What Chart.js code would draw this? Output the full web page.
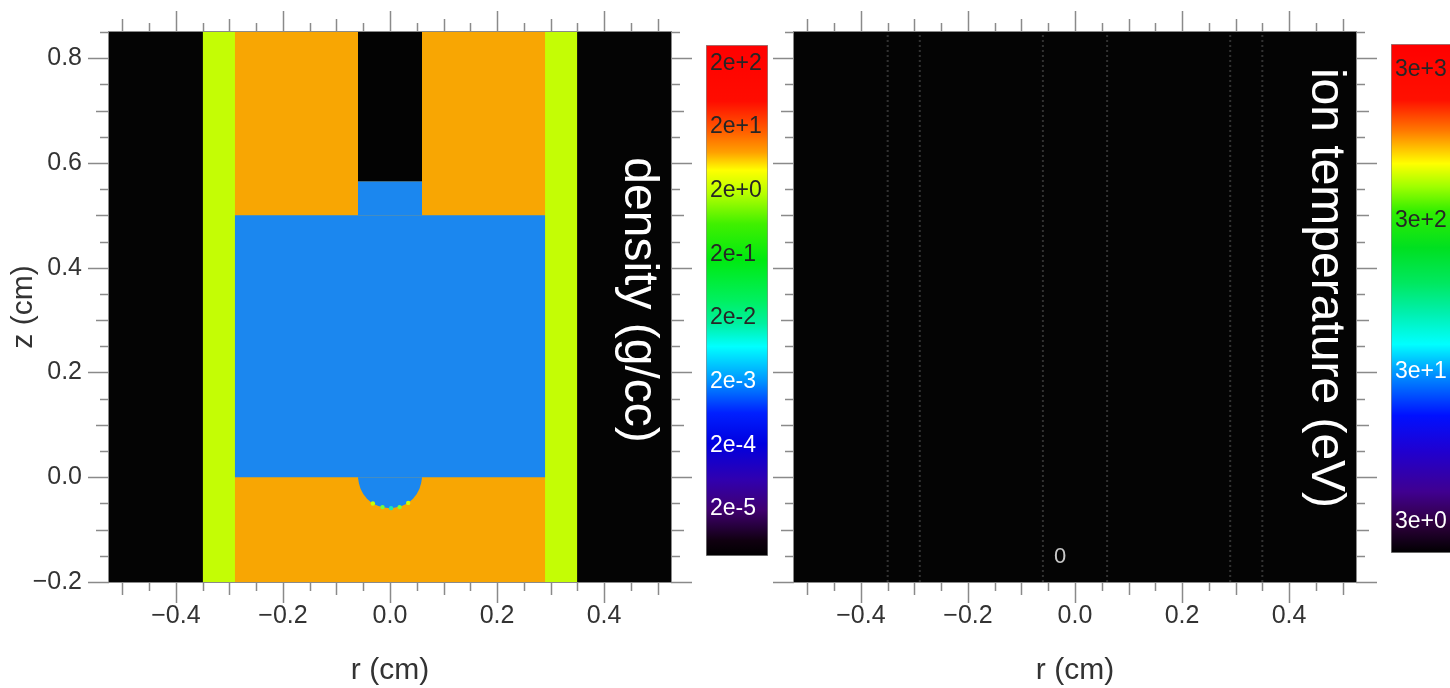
<!DOCTYPE html>
<html>
<head>
<meta charset="utf-8">
<script src="https://cdn.jsdelivr.net/npm/chart.js@4.4.1/dist/chart.umd.min.js"></script>
<style>
html, body { margin: 0; padding: 0; background: #ffffff; width: 1450px; height: 688px; overflow: hidden; }
canvas { position: absolute; }
</style>
</head>
<body>
<canvas id="densityPanel" width="700" height="688" style="left:0px;top:0px"></canvas>
<canvas id="densityBar" width="62" height="511" style="left:706px;top:45px"></canvas>
<canvas id="tempPanel" width="618" height="688" style="left:772px;top:0px"></canvas>
<canvas id="tempBar" width="62" height="509" style="left:1391px;top:44px"></canvas>
<script>
// ---------------- data ----------------
const rRange = [-0.525, 0.525];            // r (cm) axis extent
const zRange = [-0.2, 0.85];               // z (cm) axis extent
const rTickValues = [-0.4, -0.2, 0.0, 0.2, 0.4];
const zTickValues = [-0.2, 0.0, 0.2, 0.4, 0.6, 0.8];
const minorTickStep = 0.05;

// density map: material regions (painted in this order)
const regionNames = ['liner', 'shell', 'fuel', 'neck', 'channel'];
const regionRMin = [-0.35, -0.29, -0.29, -0.06, -0.06];
const regionRMax = [0.35, 0.29, 0.29, 0.06, 0.06];
const regionZMin = [-0.2, -0.2, 0.0, 0.5, 0.565];
const regionZMax = [0.85, 0.85, 0.5, 0.565, 0.85];
const regionColors = ['#c4fd05', '#f8a603', '#1b87ef', '#1b87ef', '#030303'];

// rounded fuel cap below z = 0
const capR = [-0.06, -0.058, -0.055, -0.05, -0.043, -0.034, -0.022, -0.01, 0.0, 0.01, 0.022, 0.034, 0.043, 0.05, 0.055, 0.058, 0.06];
const capZ = [0.0, -0.012, -0.022, -0.032, -0.041, -0.049, -0.055, -0.058, -0.059, -0.058, -0.055, -0.049, -0.041, -0.032, -0.022, -0.012, 0.0];
const capColor = '#1b87ef';

// mixed cells at the bottom of the cap
const speckR = [-0.032, -0.014, 0.002, 0.018, 0.034];
const speckZ = [-0.05, -0.057, -0.059, -0.057, -0.049];
const speckColors = ['#c8ff00', '#70ff40', '#20e8b0', '#80ff30', '#d0ff00'];

// ion temperature map: faint material boundaries
const boundaryR = [-0.35, -0.29, -0.06, 0.06, 0.29, 0.35];
const tempNote = '0';
const tempNoteR = -0.028;
const tempNoteZ = -0.152;

// colour bars
const densityTicks = [2e2, 2e1, 2e0, 2e-1, 2e-2, 2e-3, 2e-4, 2e-5];
const densityTickLabels = ['2e+2', '2e+1', '2e+0', '2e-1', '2e-2', '2e-3', '2e-4', '2e-5'];
const densityRange = [3.66e-6, 390];
const tempTicks = [3e3, 3e2, 3e1, 3e0];
const tempTickLabels = ['3e+3', '3e+2', '3e+1', '3e+0'];
const tempRange = [1.87, 4470];

const densityStops = [[0, '#ff0000'], [0.11, '#ff0c00'], [0.17, '#ff6000'], [0.21, '#ffa000'], [0.245, '#ffff00'], [0.29, '#b8ff00'], [0.35, '#40f000'], [0.42, '#00ea10'], [0.5, '#00f060'], [0.545, '#00f0a0'], [0.59, '#00ffff'], [0.655, '#0098ff'], [0.72, '#0020ff'], [0.78, '#0000e0'], [0.85, '#3000b0'], [0.91, '#400070'], [0.97, '#100010'], [1, '#000000']];
const tempStops = [[0, '#ff0000'], [0.11, '#ff1000'], [0.17, '#ff7800'], [0.235, '#ffff00'], [0.28, '#a0ff00'], [0.33, '#30ee00'], [0.4, '#00e020'], [0.47, '#00e860'], [0.53, '#00f0b0'], [0.59, '#00ffff'], [0.645, '#0098ff'], [0.73, '#0010ff'], [0.8, '#2000d0'], [0.88, '#400090'], [0.94, '#300040'], [1, '#000000']];

// ---------------- helpers ----------------
const FONT = "'Liberation Sans', Arial, Helvetica, sans-serif";
Chart.defaults.font.family = FONT;
const axisTextColor = '#333333';

function fmtAxis(v) {
  return (v < -1e-9 ? '\u2212' : '') + Math.abs(v).toFixed(1);
}

const blackAreaPlugin = {
  id: 'blackArea',
  beforeDatasetsDraw(chart) {
    const a = chart.chartArea, ctx = chart.ctx;
    ctx.save();
    ctx.fillStyle = '#040404';
    ctx.fillRect(a.left, a.top, a.right - a.left, a.bottom - a.top);
    ctx.restore();
  }
};

const frameTicksPlugin = {
  id: 'frameTicks',
  afterDraw(chart) {
    const ctx = chart.ctx, a = chart.chartArea, xs = chart.scales.x, ys = chart.scales.y;
    const lenOf = k => (k % 4 === 0 ? 21 : (k % 2 === 0 ? 13 : 9));
    ctx.save();
    ctx.strokeStyle = '#8a8a8a';
    ctx.lineWidth = 1.5;
    ctx.beginPath();
    const kx0 = Math.ceil(xs.min / minorTickStep - 1e-6), kx1 = Math.floor(xs.max / minorTickStep + 1e-6);
    for (let k = kx0; k <= kx1; k++) {
      const px = Math.round(xs.getPixelForValue(k * minorTickStep)) + 0.5;
      const L = lenOf(Math.abs(k));
      ctx.moveTo(px, a.bottom); ctx.lineTo(px, a.bottom + L);
      ctx.moveTo(px, a.top); ctx.lineTo(px, a.top - L);
    }
    const ky0 = Math.ceil(ys.min / minorTickStep - 1e-6), ky1 = Math.floor(ys.max / minorTickStep + 1e-6);
    for (let k = ky0; k <= ky1; k++) {
      const py = Math.round(ys.getPixelForValue(k * minorTickStep)) + 0.5;
      const L = lenOf(Math.abs(k));
      ctx.moveTo(a.left, py); ctx.lineTo(a.left - L, py);
      ctx.moveTo(a.right, py); ctx.lineTo(a.right + L, py);
    }
    ctx.stroke();
    ctx.lineWidth = 1;
    ctx.strokeRect(a.left - 0.5, a.top - 0.5, a.right - a.left + 1, a.bottom - a.top + 1);
    ctx.restore();
  }
};

const panelTextPlugin = {
  id: 'panelText',
  afterDraw(chart, args, opts) {
    const ctx = chart.ctx, a = chart.chartArea;
    ctx.save();
    if (opts.title) {
      ctx.translate(a.right - opts.titleInset, a.top + opts.titleCenter);
      ctx.rotate(Math.PI / 2);
      ctx.fillStyle = '#ffffff';
      ctx.font = '48px ' + FONT;
      ctx.textAlign = 'center';
      ctx.textBaseline = 'middle';
      ctx.fillText(opts.title, 0, 0);
      ctx.setTransform(1, 0, 0, 1, 0, 0);
    }
    if (opts.note) {
      ctx.fillStyle = '#c8c8c8';
      ctx.font = '22px ' + FONT;
      ctx.textAlign = 'center';
      ctx.textBaseline = 'middle';
      ctx.fillText(opts.note, chart.scales.x.getPixelForValue(opts.noteR), chart.scales.y.getPixelForValue(opts.noteZ));
    }
    ctx.restore();
  }
};

function xAxisOptions() {
  return {
    type: 'linear', position: 'bottom', min: rRange[0], max: rRange[1],
    grid: { display: false, drawTicks: false }, border: { display: false },
    ticks: { autoSkip: false, maxRotation: 0, padding: 19, color: axisTextColor, font: { size: 25 }, callback: v => fmtAxis(v) },
    afterBuildTicks: s => { s.ticks = rTickValues.map(v => ({ value: v })); },
    title: { display: true, text: 'r (cm)', color: axisTextColor, font: { size: 30, lineHeight: 1 }, padding: { top: 0, bottom: 2 } },
    afterFit: s => { s.height = 106; s.paddingLeft = 0; s.paddingRight = 0; }
  };
}

function rectDataset(i, order) {
  return {
    label: regionNames[i],
    data: [{ x: regionRMin[i], y: regionZMax[i] }, { x: regionRMax[i], y: regionZMax[i] }],
    fill: { value: regionZMin[i] },
    backgroundColor: regionColors[i],
    borderColor: 'transparent', borderWidth: 0,
    pointRadius: 0, pointHoverRadius: 0, tension: 0, order: order
  };
}

// ---------------- density panel ----------------
const densityDatasets = [];
const nLayers = regionNames.length + 2;
regionNames.forEach((n, i) => densityDatasets.push(rectDataset(i, nLayers - i)));
densityDatasets.push({
  label: 'cap',
  data: capR.map((r, i) => ({ x: r, y: capZ[i] })),
  fill: { value: 0 },
  backgroundColor: capColor, borderColor: 'transparent', borderWidth: 0,
  pointRadius: 0, pointHoverRadius: 0, tension: 0, order: 2
});
densityDatasets.push({
  label: 'mixed cells',
  data: speckR.map((r, i) => ({ x: r, y: speckZ[i] })),
  showLine: false, fill: false,
  pointRadius: 2.2, pointBorderWidth: 0,
  pointBackgroundColor: speckColors, pointBorderColor: speckColors, order: 1
});

new Chart(document.getElementById('densityPanel'), {
  type: 'line',
  data: { datasets: densityDatasets },
  options: {
    responsive: false, animation: false, events: [], devicePixelRatio: 1,
    layout: { padding: { top: 32, right: 29, left: 0, bottom: 0 } },
    plugins: {
      legend: { display: false }, tooltip: { enabled: false },
      panelText: { title: 'density (g/cc)', titleInset: 33, titleCenter: 268 }
    },
    scales: {
      x: xAxisOptions(),
      y: {
        type: 'linear', position: 'left', min: zRange[0], max: zRange[1],
        grid: { display: false, drawTicks: false }, border: { display: false },
        ticks: { autoSkip: false, padding: 27, color: axisTextColor, font: { size: 25 }, callback: v => fmtAxis(v) },
        afterBuildTicks: s => { s.ticks = zTickValues.map(v => ({ value: v })); },
        title: { display: true, text: 'z (cm)', color: axisTextColor, font: { size: 30, lineHeight: 1 }, padding: { top: 9, bottom: 0 } },
        afterFit: s => { s.width = 109; s.paddingTop = 0; s.paddingBottom = 0; }
      }
    }
  },
  plugins: [blackAreaPlugin, frameTicksPlugin, panelTextPlugin]
});

// ---------------- ion temperature panel ----------------
const tempDatasets = boundaryR.map(r => ({
  label: 'boundary ' + r,
  data: [{ x: r, y: zRange[0] }, { x: r, y: zRange[1] }],
  borderColor: 'rgba(150,150,150,0.32)', borderWidth: 2, borderDash: [2, 3],
  pointRadius: 0, pointHoverRadius: 0, fill: false, tension: 0
}));

new Chart(document.getElementById('tempPanel'), {
  type: 'line',
  data: { datasets: tempDatasets },
  options: {
    responsive: false, animation: false, events: [], devicePixelRatio: 1,
    layout: { padding: { top: 32, right: 34, left: 22, bottom: 0 } },
    plugins: {
      legend: { display: false }, tooltip: { enabled: false },
      panelText: { title: 'ion temperature (eV)', titleInset: 31, titleCenter: 256, note: tempNote, noteR: tempNoteR, noteZ: tempNoteZ }
    },
    scales: {
      x: xAxisOptions(),
      y: { type: 'linear', display: false, min: zRange[0], max: zRange[1] }
    }
  },
  plugins: [blackAreaPlugin, frameTicksPlugin, panelTextPlugin]
});

// ---------------- colour bars ----------------
function makeColorBar(id, range, ticks, labels, stops, darkFrom) {
  new Chart(document.getElementById(id), {
    type: 'bar',
    data: {
      labels: [id],
      datasets: [{
        data: [range],
        backgroundColor: (c) => {
          const a = c.chart.chartArea;
          if (!a) return '#888';
          const g = c.chart.ctx.createLinearGradient(0, a.top, 0, a.bottom);
          stops.forEach(s => g.addColorStop(s[0], s[1]));
          return g;
        },
        borderColor: '#8c8c8c', borderWidth: 1, borderSkipped: false,
        barPercentage: 1, categoryPercentage: 1
      }]
    },
    options: {
      responsive: false, animation: false, events: [], devicePixelRatio: 1,
      layout: { padding: 0 },
      plugins: { legend: { display: false }, tooltip: { enabled: false } },
      scales: {
        x: { display: false },
        y: {
          type: 'logarithmic', min: range[0], max: range[1],
          grid: { display: false, drawTicks: false }, border: { display: false },
          ticks: {
            z: 1, mirror: true, padding: 4, autoSkip: false,
            font: { size: 23 },
            color: (c) => (c.tick && c.tick.value >= darkFrom ? '#262626' : '#ffffff'),
            callback: (v) => { const i = ticks.findIndex(t => Math.abs(t - v) / t < 1e-6); return i >= 0 ? labels[i] : ''; }
          },
          afterBuildTicks: s => { s.ticks = ticks.map(v => ({ value: v })); },
          afterFit: s => { s.width = 0; s.paddingTop = 0; s.paddingBottom = 0; }
        }
      }
    }
  });
}
makeColorBar('densityBar', densityRange, densityTicks, densityTickLabels, densityStops, 0.019);
makeColorBar('tempBar', tempRange, tempTicks, tempTickLabels, tempStops, 299);
</script>
</body>
</html>
